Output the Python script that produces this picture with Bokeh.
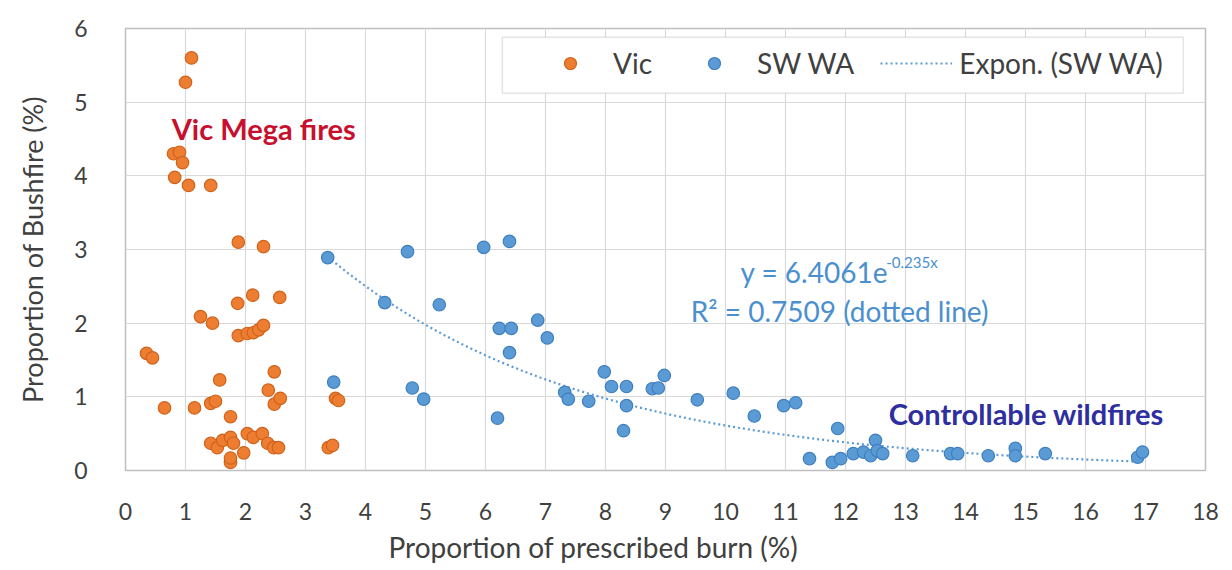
import numpy as np
from bokeh.plotting import figure
from bokeh.models import (Range1d, FixedTicker, Legend, LegendItem, Label, BoxAnnotation,
                          ColumnDataSource, Title)
from bokeh.embed import file_html
from bokeh.resources import INLINE

# ---- data ----
vic_x = [1.1, 1.0, 0.8, 0.9, 0.95, 0.82, 1.05, 1.42, 1.88, 2.3,
         1.25, 1.45, 1.87, 2.12, 2.57, 1.88, 2.03, 2.13, 2.22, 2.3,
         0.35, 0.45, 1.57, 2.48, 2.38, 2.48, 2.58, 0.65, 1.15, 1.42,
         1.5, 1.75, 1.42, 1.53, 1.62, 1.75, 1.8, 2.03, 2.13, 2.28,
         2.37, 2.47, 2.55, 1.75, 1.75, 1.97, 3.5, 3.55, 3.38, 3.45]
vic_y = [5.6, 5.27, 4.3, 4.32, 4.18, 3.98, 3.87, 3.87, 3.1, 3.04,
         2.09, 2.0, 2.27, 2.38, 2.35, 1.83, 1.86, 1.87, 1.91, 1.97,
         1.59, 1.53, 1.23, 1.34, 1.09, 0.9, 0.98, 0.85, 0.85, 0.91,
         0.94, 0.73, 0.37, 0.31, 0.41, 0.45, 0.37, 0.5, 0.45, 0.5,
         0.37, 0.31, 0.31, 0.11, 0.17, 0.24, 0.98, 0.95, 0.31, 0.34]

sw_x = [3.37, 4.7, 5.97, 6.4, 4.32, 5.23, 6.23, 6.43, 6.87, 7.03,
        6.4, 3.47, 4.78, 4.97, 6.2, 7.32, 7.38, 7.72, 7.98, 8.1,
        8.35, 8.35, 8.3, 8.78, 8.88, 8.98, 9.53, 10.13, 10.48, 10.97,
        11.17, 11.87, 11.4, 11.78, 11.92, 12.13, 12.3, 12.42, 12.5, 12.53,
        12.62, 13.12, 13.75, 13.87, 14.38, 14.83, 14.83, 15.33, 16.87, 16.95]
sw_y = [2.89, 2.97, 3.03, 3.11, 2.28, 2.25, 1.93, 1.93, 2.04, 1.8,
        1.6, 1.2, 1.12, 0.97, 0.71, 1.06, 0.97, 0.94, 1.34, 1.14,
        1.14, 0.88, 0.54, 1.11, 1.12, 1.29, 0.96, 1.05, 0.74, 0.88,
        0.92, 0.57, 0.16, 0.11, 0.16, 0.23, 0.25, 0.2, 0.41, 0.27,
        0.23, 0.2, 0.23, 0.23, 0.2, 0.3, 0.2, 0.23, 0.18, 0.25]

# exponential trendline shown on the chart: y = 6.4061 e^(-0.235 x)
trend_a = 6.4061
trend_b = -0.235
trend_x = np.linspace(min(sw_x), max(sw_x), 120)
trend_y = trend_a * np.exp(trend_b * trend_x)

x_ticks = list(range(0, 19))
y_ticks = list(range(0, 7))

series_names = ["Vic", "SW WA", "Expon. (SW WA)"]

FONT = "Lato"
ORANGE = "#ED7D31"
BLUE = "#5B9BD5"
TXT = "#404040"
EQ = "#4A90D0"

p = figure(width=1232, height=570, output_backend="svg", toolbar_location=None,
           x_range=Range1d(0, 18), y_range=Range1d(0, 6),
           min_border_left=125, min_border_right=27, min_border_top=28, min_border_bottom=100)
p.background_fill_color = "white"
p.border_fill_color = "white"
p.outline_line_color = "#bfbfbf"
p.outline_line_width = 1.5

p.xgrid.grid_line_color = "#d9d9d9"
p.ygrid.grid_line_color = "#d9d9d9"
p.xgrid.grid_line_width = 1.2
p.ygrid.grid_line_width = 1.2

for ax in (p.xaxis[0], p.yaxis[0]):
    ax.axis_line_color = None
    ax.major_tick_line_color = None
    ax.minor_tick_line_color = None
    ax.major_label_text_font = FONT
    ax.major_label_text_font_size = "23px"
    ax.major_label_text_color = TXT
    ax.axis_label_text_font = FONT
    ax.axis_label_text_font_size = "27px"
    ax.axis_label_text_font_style = "normal"
    ax.axis_label_text_color = TXT

p.xaxis.ticker = FixedTicker(ticks=x_ticks)
p.yaxis.ticker = FixedTicker(ticks=y_ticks)
p.xaxis.major_label_standoff = 26
p.yaxis.major_label_standoff = 32
p.yaxis.axis_label = "Proportion of Bushfire (%)"
p.yaxis.axis_label_standoff = 22

# x-axis title, placed slightly left of centre as in the original
x_title = Title(text="Proportion of prescribed burn (%)", align="left", offset=263,
                text_font=FONT, text_font_size="28px", text_font_style="normal",
                text_color=TXT, standoff=10)
p.add_layout(x_title, "below")

# white box behind legend
legend_box = BoxAnnotation(left=6.28, right=17.63, top=5.88, bottom=5.12,
                           fill_color="white", fill_alpha=1.0,
                           line_color="#a6a6a6", line_width=1.5, level="underlay")
p.add_layout(legend_box)

src_trend = ColumnDataSource(dict(x=trend_x, y=trend_y))
r_trend = p.line("x", "y", source=src_trend, line_color=BLUE, line_width=2.2, line_dash="2 3")

src_vic = ColumnDataSource(dict(x=vic_x, y=vic_y))
src_sw = ColumnDataSource(dict(x=sw_x, y=sw_y))
r_vic = p.scatter("x", "y", source=src_vic, size=12.5, fill_color=ORANGE, line_color="#d0631c", line_width=1.2)
r_sw = p.scatter("x", "y", source=src_sw, size=12.5, fill_color=BLUE, line_color="#3f7fbf", line_width=1.2)

legend = Legend(items=[LegendItem(label=series_names[0], renderers=[r_vic]),
                       LegendItem(label=series_names[1], renderers=[r_sw]),
                       LegendItem(label=series_names[2], renderers=[r_trend])],
                orientation="horizontal", location=(405, 386),
                glyph_width=72, glyph_height=30, label_height=30, label_standoff=7, spacing=26,
                padding=4, margin=0,
                label_text_font=FONT, label_text_font_size="28px", label_text_color=TXT,
                border_line_alpha=0, background_fill_alpha=0)
p.add_layout(legend, "center")

# annotations
p.add_layout(Label(x=0.77, y=4.64, text="Vic Mega fires", text_font=FONT, text_font_size="29px",
                   text_font_style="bold", text_color="#C8102E", text_baseline="middle", text_align="left"))
p.add_layout(Label(x=12.72, y=0.77, text="Controllable wildfires", text_font=FONT, text_font_size="29px",
                   text_font_style="bold", text_color="#2E2EA0", text_baseline="middle", text_align="left"))
p.add_layout(Label(x=10.25, y=2.69, text="y = 6.4061e", text_font=FONT, text_font_size="28px",
                   text_color=EQ, text_baseline="middle", text_align="left"))
p.add_layout(Label(x=12.68, y=2.83, text="-0.235x", text_font=FONT, text_font_size="15px",
                   text_color=EQ, text_baseline="middle", text_align="left"))
p.add_layout(Label(x=9.42, y=2.17, text="R\u00b2 = 0.7509  (dotted line)", text_font=FONT, text_font_size="28px",
                   text_color=EQ, text_baseline="middle", text_align="left"))

open("out.html", "w").write(file_html(p, INLINE))
